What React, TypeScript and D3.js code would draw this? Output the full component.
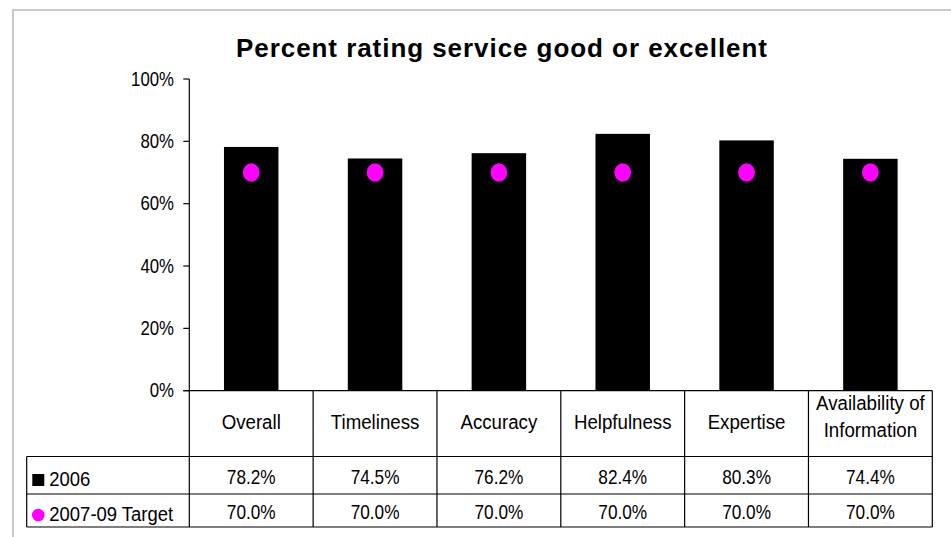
import React from "react";
import * as d3 from "d3";

const categories = ["Overall", "Timeliness", "Accuracy", "Helpfulness", "Expertise", "Availability of Information"];
const headerLines = [["Overall"], ["Timeliness"], ["Accuracy"], ["Helpfulness"], ["Expertise"], ["Availability of", "Information"]];
const values2006 = [0.782, 0.745, 0.762, 0.824, 0.803, 0.744];
const valuesTarget = [0.70, 0.70, 0.70, 0.70, 0.70, 0.70];
const yTicks = [0, 0.2, 0.4, 0.6, 0.8, 1.0];
const seriesNames = ["2006", "2007-09 Target"];
const title = "Percent rating service good or excellent";

const W = 951, H = 537;
const FONT = "'Liberation Sans', Arial, Helvetica, sans-serif";

function SText({ x, y, sx = 1, anchor = "middle", size = 21, weight = "normal", children }: any) {
  return (
    <text
      transform={`translate(${x},${y}) scale(${sx},1)`}
      textAnchor={anchor}
      fontSize={size}
      fontWeight={weight}
      fontFamily={FONT}
      fill="#000"
    >
      {children}
    </text>
  );
}

export default function App() {
  const plotLeft = 189.3, plotRight = 932.3;
  const plotTop = 79, plotBottom = 390.7;
  const row1 = 456.5, row2 = 494, row3 = 527;
  const legendLeft = 26.7;

  const x = d3.scaleBand<string>().domain(categories).range([plotLeft, plotRight]).paddingInner(0.56).paddingOuter(0.28);
  const y = d3.scaleLinear().domain([0, 1]).range([plotBottom, plotTop]);
  const step = x.step();
  const colEdges = categories.map((_, i) => plotLeft + i * step).concat([plotRight]);
  const fmtTick = d3.format(".0%");
  const fmtVal = d3.format(".1%");

  return (
    <svg width={W} height={H} style={{ position: "absolute", left: 0, top: 0, background: "#fff" }}>
      <rect x={0} y={0} width={W} height={H} fill="#fff" />
      {/* outer chart border */}
      <rect x={13} y={10} width={W + 20} height={H + 20} fill="none" stroke="#c8c8c8" strokeWidth={2} />

      {/* title */}
      <text
        x={501.5}
        y={57}
        textAnchor="middle"
        fontSize={26}
        fontWeight="bold"
        fontFamily={FONT}
        textLength={531}
        lengthAdjust="spacing"
        fill="#000"
      >
        {title}
      </text>

      {/* bars */}
      {categories.map((c, i) => (
        <rect key={c} x={x(c)} y={y(values2006[i])} width={x.bandwidth()} height={plotBottom - y(values2006[i])} fill="#000" />
      ))}
      {/* target dots */}
      {categories.map((c, i) => (
        <ellipse key={c} cx={(x(c) as number) + x.bandwidth() / 2} cy={y(valuesTarget[i])} rx={8.4} ry={9.3} fill="#ff00ff" />
      ))}

      {/* y axis */}
      <line x1={plotLeft} x2={plotLeft} y1={plotTop} y2={row3} stroke="#000" strokeWidth={1.2} />
      {yTicks.map((t) => (
        <g key={t}>
          <line x1={plotLeft - 6} x2={plotLeft} y1={y(t)} y2={y(t)} stroke="#000" strokeWidth={1.2} />
          <SText x={174} y={y(t) + 6.5} sx={0.8} anchor="end" size={21}>{fmtTick(t)}</SText>
        </g>
      ))}

      {/* table lines */}
      <line x1={plotLeft - 6} x2={plotRight} y1={plotBottom} y2={plotBottom} stroke="#000" strokeWidth={1.2} />
      {[row1, row2, row3].map((r) => (
        <line key={r} x1={legendLeft} x2={plotRight} y1={r} y2={r} stroke="#000" strokeWidth={1.2} />
      ))}
      <line x1={legendLeft} x2={legendLeft} y1={row1} y2={row3} stroke="#000" strokeWidth={1.2} />
      {colEdges.slice(1).map((cx, i) => (
        <line key={i} x1={cx} x2={cx} y1={plotBottom} y2={row3} stroke="#000" strokeWidth={1.2} />
      ))}

      {/* header labels */}
      {categories.map((c, i) => {
        const cx = (x(c) as number) + x.bandwidth() / 2;
        const lines = headerLines[i];
        if (lines.length === 1) {
          return <SText key={c} x={cx} y={429} sx={0.89}>{lines[0]}</SText>;
        }
        return (
          <g key={c}>
            <SText x={cx} y={409.5} sx={0.89}>{lines[0]}</SText>
            <SText x={cx} y={437} sx={0.89}>{lines[1]}</SText>
          </g>
        );
      })}

      {/* values */}
      {categories.map((c, i) => {
        const cx = (x(c) as number) + x.bandwidth() / 2;
        return (
          <g key={c}>
            <SText x={cx} y={484} sx={0.82}>{fmtVal(values2006[i])}</SText>
            <SText x={cx} y={519.3} sx={0.82}>{fmtVal(valuesTarget[i])}</SText>
          </g>
        );
      })}

      {/* legend */}
      <rect x={32.3} y={474} width={12} height={12} fill="#000" />
      <SText x={49.3} y={486} sx={0.88} anchor="start">{seriesNames[0]}</SText>
      <circle cx={38.3} cy={515} r={6.3} fill="#ff00ff" />
      <SText x={49.3} y={520.7} sx={0.88} anchor="start">{seriesNames[1]}</SText>
    </svg>
  );
}
